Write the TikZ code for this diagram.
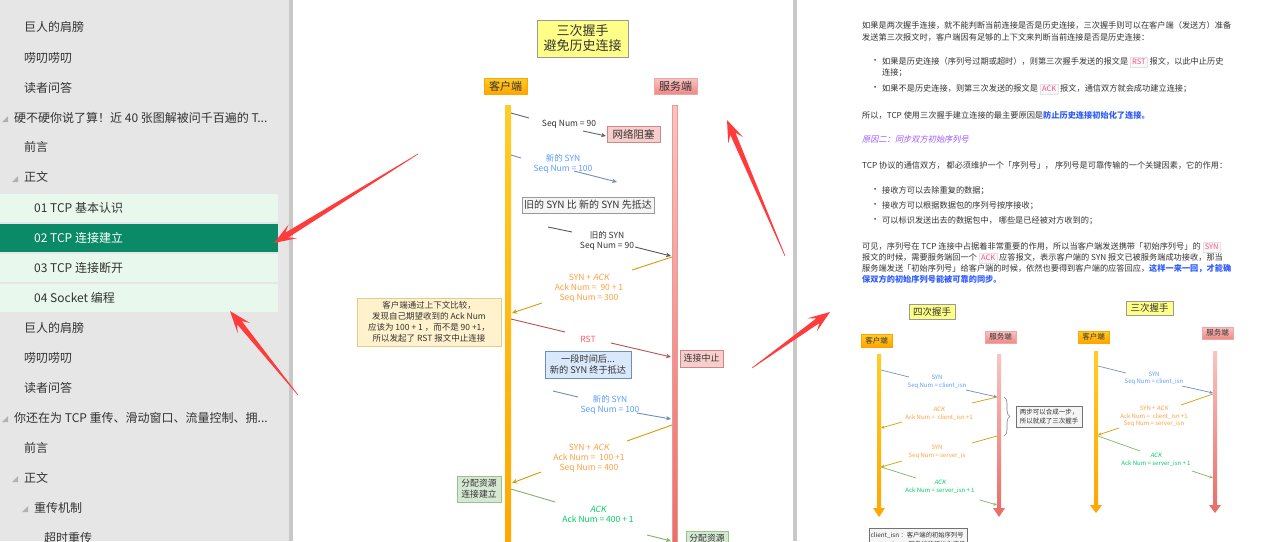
\documentclass[tikz,border=0pt]{standalone}
\usepackage{fontspec}
\setmainfont{Noto Sans CJK SC}
\newfontfamily\slfont{Noto Sans CJK SC}[FakeSlant=0.2]
\usetikzlibrary{arrows.meta,calc,decorations.pathreplacing}
\definecolor{leftbg}{HTML}{E6E6E6}
\definecolor{strip}{HTML}{C8C8C8}
\definecolor{rowlight}{HTML}{E8F8EC}
\definecolor{rowdark}{HTML}{0B8A67}
\definecolor{txt}{HTML}{333333}
\definecolor{annot}{HTML}{FF3B3B}
\definecolor{lnblue}{HTML}{6C8EBF}
\definecolor{lnorange}{HTML}{D79B00}
\definecolor{lnred}{HTML}{B85450}
\definecolor{lngreen}{HTML}{82B366}
\definecolor{lngray}{HTML}{666666}
\definecolor{tblue}{HTML}{5C9DFF}
\definecolor{torange}{HTML}{FFA040}
\definecolor{tgreen}{HTML}{00CC66}
\definecolor{tred}{HTML}{FF5C5C}
\definecolor{noteY}{HTML}{FFFF88}
\definecolor{redfill}{HTML}{F8CECC}
\definecolor{bluefill}{HTML}{DAE8FC}
\definecolor{greenfill}{HTML}{D5E8D4}
\definecolor{yelfill}{HTML}{FFF2CC}
\definecolor{yelbord}{HTML}{D6B656}
\definecolor{grayfill}{HTML}{F5F5F5}
\definecolor{graybord}{HTML}{999999}
\definecolor{cliA}{HTML}{FFCD28}
\definecolor{cliB}{HTML}{FFA500}
\definecolor{srvA}{HTML}{F8C4C2}
\definecolor{srvB}{HTML}{EA6B66}
\definecolor{codebg}{HTML}{F8F8F8}
\definecolor{codebd}{HTML}{E3E3E3}
\definecolor{codetx}{HTML}{FF4D88}
\definecolor{linkblue}{HTML}{2E5BFF}
\definecolor{purp}{HTML}{A057FF}
\newcommand\cbox[1]{{\fboxsep=1.8pt\fboxrule=0.4pt\fcolorbox{codebd}{codebg}{\textcolor{codetx}{\fontsize{7.5}{8}\selectfont #1}}}}
\newcommand\msgl[7]{%
  \coordinate (#3s) at #4; \coordinate (#3g) at #5;
  \coordinate (#3h) at #6; \coordinate (#3e) at #7;
  \draw[#1,#2] (#3s) -- (#3g);
  \draw[#1,#2,->] (#3h) -- (#3e);}
\newcommand\tri[2]{\fill[gray!60] (#1,#2+5) -- (#1+6,#2+5) -- (#1+6,#2-1) -- cycle;}
\newcommand\redarr[3]{%
  \coordinate (#1t) at #2; \coordinate (#1p) at #3;
  \coordinate (#1b) at ($(#1p)!15pt!(#1t)$);
  \coordinate (#1c) at ($(#1p)!22pt!(#1t)$);
  \fill[annot] ($(#1t)!0.3pt!90:(#1p)$) -- ($(#1b)!2.8pt!90:(#1p)$) -- ($(#1c)!8pt!90:(#1p)$) -- (#1p)
   -- ($(#1c)!8pt!-90:(#1p)$) -- ($(#1b)!2.8pt!-90:(#1p)$) -- ($(#1t)!0.3pt!-90:(#1p)$) -- cycle;}
\tikzset{
  lefttxt/.style={anchor=west, inner sep=0pt, text=txt, font=\fontsize{12}{14}\selectfont},
  boxn/.style={draw, rectangle, inner sep=0pt, align=center, text=txt},
  mlbl/.style={align=center, inner sep=0pt, font=\fontsize{8.5}{10}\selectfont},
  slbl/.style={align=center, inner sep=0pt, font=\fontsize{6}{7.7}\selectfont},
  big/.style={line width=0.9pt, >={Stealth[length=5pt,width=4.5pt]}},
  small/.style={line width=0.7pt, >={Stealth[length=3.5pt,width=3pt]}},
  rtxt/.style={anchor=west, inner sep=0pt, text=txt, font=\fontsize{8.2}{12}\selectfont},
}
\begin{document}
\begin{tikzpicture}[x=1pt,y=-1pt]
\useasboundingbox (0,0) rectangle (1285,541);
\clip (0,0) rectangle (1285,541);
\fill[white] (0,0) rectangle (1285,541);
% ---------- left panel ----------
\fill[leftbg] (0,0) rectangle (289,541);
\fill[strip] (289,0) rectangle (293,541);
\fill[strip] (793,0) rectangle (797,541);
\fill[rowlight] (0,194) rectangle (278,222);
\fill[rowdark] (0,224) rectangle (278,252);
\fill[rowlight] (0,254) rectangle (278,282);
\fill[rowlight] (0,284) rectangle (278,312);
\node[lefttxt] (l1) at (24,27) {巨人的肩膀};
\node[lefttxt] (l2) at (24,58) {唠叨唠叨};
\node[lefttxt] (l3) at (24,88) {读者问答};
\tri{2}{117}
\node[lefttxt] (l4) at (14,118) {硬不硬你说了算！近 40 张图解被问千百遍的 T...};
\node[lefttxt] (l5) at (24,147) {前言};
\tri{12}{177}
\node[lefttxt] (l6) at (24,177) {正文};
\node[lefttxt] (l7) at (34,208) {01 TCP 基本认识};
\node[lefttxt, text=white] (l8) at (34,238) {02 TCP 连接建立};
\node[lefttxt] (l9) at (34,268) {03 TCP 连接断开};
\node[lefttxt] (l10) at (34,298) {04 Socket 编程};
\node[lefttxt] (l11) at (24,328) {巨人的肩膀};
\node[lefttxt] (l12) at (24,358) {唠叨唠叨};
\node[lefttxt] (l13) at (24,388) {读者问答};
\tri{2}{417}
\node[lefttxt] (l14) at (14,418) {你还在为 TCP 重传、滑动窗口、流量控制、拥...};
\node[lefttxt] (l15) at (24,448) {前言};
\tri{12}{477}
\node[lefttxt] (l16) at (24,478) {正文};
\tri{22}{507}
\node[lefttxt] (l17) at (34,508) {重传机制};
\node[lefttxt] (l18) at (44,538) {超时重传};
% ---------- middle diagram ----------
\node[boxn, fill=noteY, draw=black!40, minimum width=91, minimum height=37, font=\fontsize{13}{15}\selectfont] (title) at (582.5,38.5) {三次握手\\避免历史连接};
\node[boxn, top color=cliA, bottom color=cliB, draw=cliB, minimum width=43, minimum height=16, font=\fontsize{11}{13}\selectfont] (cli) at (505.5,86) {客户端};
\node[boxn, top color=srvA, bottom color=srvB!80, draw=srvB!60, minimum width=43, minimum height=16, font=\fontsize{11}{13}\selectfont] (srv) at (675.5,86) {服务端};
\shade[top color=cliA, bottom color=cliB] (505,105) rectangle (511,560);
\shade[top color=srvA, bottom color=srvB, draw=srvB!70] (672,105) rectangle (677,560);
\node[boxn, fill=redfill, draw=lnred!70, minimum width=53, minimum height=16, font=\fontsize{10.5}{12}\selectfont] (block) at (633.5,134) {网络阻塞};
\node[boxn, fill=grayfill, draw=graybord, minimum width=132, minimum height=16, font=\fontsize{10}{12}\selectfont] (oldfirst) at (588,205) {旧的 SYN 比 新的 SYN 先抵达};
\node[boxn, fill=yelfill, draw=yelbord!70, minimum width=144, minimum height=48, font=\fontsize{8.5}{11}\selectfont] (note) at (429,322) {客户端通过上下文比较，\\发现自己期望收到的 Ack Num\\应该为 100 + 1 ，而不是 90 +1，\\所以发起了 RST 报文中止连接};
\node[boxn, fill=redfill, draw=lnred!70, minimum width=43, minimum height=17, font=\fontsize{9}{11}\selectfont] (abort) at (701.5,358.5) {连接中止};
\node[boxn, fill=bluefill, draw=lnblue, minimum width=86, minimum height=27, font=\fontsize{9.2}{11}\selectfont] (later) at (588,364.5) {一段时间后...\\新的 SYN 终于抵达};
\node[boxn, fill=greenfill, draw=lngreen!80, minimum width=44, minimum height=26, font=\fontsize{8.8}{11}\selectfont] (alloc1) at (479,489) {分配资源\\连接建立};
\node[boxn, fill=greenfill, draw=lngreen!80, minimum width=42, minimum height=26, font=\fontsize{8.8}{11}\selectfont] (alloc2) at (707,544) {分配资源\\连接建立};
\msgl{big}{lngray}{m1}{(511,113)}{(529,118)}{(583,131)}{(606,136)}
\node[mlbl, text=txt] (t1) at (569,124) {Seq Num = 90};
\msgl{big}{lnblue}{m2}{(511,155)}{(521,158)}{(574,171)}{(617,182)}
\node[mlbl, text=tblue] (t2) at (563,164) {新的 SYN\\Seq Num = 100};
\msgl{big}{black!65}{m3}{(548,227)}{(572,232)}{(635,247)}{(671,256)}
\node[mlbl, text=txt] (t3) at (607,241) {旧的 SYN\\Seq Num = 90};
\msgl{big}{lnorange}{m4}{(672,257)}{(632,270)}{(542,303)}{(512,313)}
\node[mlbl, text=torange] (t4) at (589,288) {SYN + {\slfont ACK}\\Ack Num = \ 90 + 1\\Seq Num = 300};
\msgl{big}{lnred}{m5}{(511,319)}{(565,332)}{(611,343)}{(671,357)}
\node[mlbl, text=tred] (t5) at (588,339) {RST};
\msgl{big}{lnblue}{m6}{(553,391)}{(578,397)}{(637,413)}{(671,419)}
\node[mlbl, text=tblue] (t6) at (610,405) {新的 SYN\\Seq Num = 100};
\msgl{big}{lnorange}{m7}{(672,425)}{(627,441)}{(541,472)}{(512,483)}
\node[mlbl, text=torange] (t7) at (589,458) {SYN + {\slfont ACK}\\Ack Num = \ 100 +1\\Seq Num = 400};
\msgl{big}{lngreen}{m8}{(511,489)}{(555,502)}{(647,535)}{(671,541)}
\node[mlbl, text=tgreen] (t8) at (598,514) {{\slfont ACK}\\Ack Num = 400 + 1};
% ---------- right panel text ----------
\node[rtxt] (r1) at (862,25) {如果是两次握手连接，就不能判断当前连接是否是历史连接，三次握手则可以在客户端（发送方）准备};
\node[rtxt] (r2) at (862,37) {发送第三次报文时，客户端因有足够的上下文来判断当前连接是否是历史连接：};
\node[rtxt] (bu1) at (871,62) {•};
\node[rtxt] (r3) at (882,62) {如果是历史连接（序列号过期或超时），则第三次握手发送的报文是 \cbox{RST} 报文，以此中止历史};
\node[rtxt] (r4) at (882,73) {连接；};
\node[rtxt] (bu2) at (871,89) {•};
\node[rtxt] (r5) at (882,89) {如果不是历史连接，则第三次发送的报文是 \cbox{ACK} 报文，通信双方就会成功建立连接；};
\node[rtxt] (r6) at (862,115) {所以，TCP 使用三次握手建立连接的最主要原因是{\bfseries\color{linkblue}防止历史连接初始化了连接。}};
\node[rtxt, text=purp, font=\fontsize{8.2}{12}\slfont] (r7) at (862,139) {原因二：同步双方初始序列号};
\node[rtxt] (r8) at (862,165) {TCP 协议的通信双方， 都必须维护一个「序列号」， 序列号是可靠传输的一个关键因素，它的作用：};
\node[rtxt] (bu3) at (871,191) {•};
\node[rtxt] (r9) at (882,191) {接收方可以去除重复的数据；};
\node[rtxt] (bu4) at (871,206) {•};
\node[rtxt] (r10) at (882,206) {接收方可以根据数据包的序列号按序接收；};
\node[rtxt] (bu5) at (871,221) {•};
\node[rtxt] (r11) at (882,221) {可以标识发送出去的数据包中， 哪些是已经被对方收到的；};
\node[rtxt] (r12) at (862,247) {可见，序列号在 TCP 连接中占据着非常重要的作用，所以当客户端发送携带「初始序列号」的 \cbox{SYN}};
\node[rtxt] (r13) at (862,258) {报文的时候，需要服务端回一个 \cbox{ACK} 应答报文，表示客户端的 SYN 报文已被服务端成功接收，那当};
\node[rtxt] (r14) at (862,268.5) {服务端发送「初始序列号」给客户端的时候，依然也要得到客户端的应答回应，{\bfseries\color{linkblue}这样一来一回，才能确}};
\node[rtxt, text=linkblue, font=\fontsize{8.2}{12}\bfseries] (r15) at (862,279) {保双方的初始序列号能被可靠的同步。};
% ---------- four-way diagram ----------
\node[boxn, fill=noteY, draw=black!40, minimum width=46, minimum height=15, font=\fontsize{9.5}{11}\selectfont] (title4) at (932,311.5) {四次握手};
\node[boxn, top color=cliA, bottom color=cliB, draw=cliB, minimum width=31, minimum height=13, font=\fontsize{7.5}{9}\selectfont] (cli4) at (876.5,340.5) {客户端};
\node[boxn, top color=srvA, bottom color=srvB!80, draw=srvB!60, minimum width=31, minimum height=12, font=\fontsize{7.5}{9}\selectfont] (srv4) at (1000.5,337) {服务端};
\shade[top color=cliA, bottom color=cliB] (877,354) -- (881,354) -- (881,508) -- (885,508) -- (879,517) -- (873,508) -- (877,508) -- cycle;
\shade[top color=srvA, bottom color=srvB] (997,354) -- (1001,354) -- (1001,508) -- (1005,508) -- (999,517) -- (993,508) -- (997,508) -- cycle;
\msgl{small}{lnblue}{f1}{(881,370)}{(909,377)}{(966,390)}{(997,397)}
\node[slbl, text=tblue] (ft1) at (937,382) {SYN\\Seq Num = client\_isn};
\msgl{small}{lnorange}{f2}{(997,397)}{(972,403)}{(902,422)}{(881,428)}
\node[slbl, text=torange] (ft2) at (939,413.5) {{\slfont ACK}\\Ack Num = \ client\_isn +1};
\msgl{small}{lnorange}{f3}{(997,436)}{(972,443)}{(902,461)}{(881,467)}
\node[slbl, text=torange] (ft3) at (937,452) {SYN\\Seq Num = server\_is};
\msgl{small}{lngreen}{f4}{(881,467)}{(916,478)}{(980,500)}{(997,505)}
\node[slbl, text=tgreen] (ft4) at (940,487) {{\slfont ACK}\\Ack Num = server\_isn + 1};
\coordinate (brA) at (1004,397);
\coordinate (brB) at (1004,436);
\draw[gray, line width=0.6pt, decorate, decoration={brace, amplitude=6pt}] (brA) -- (brB);
\node[boxn, fill=grayfill, draw=black!55, minimum width=66, minimum height=21, align=left, font=\fontsize{6.5}{8.5}\selectfont] (note4) at (1049,416.5) {两步可以合成一步，\\所以就成了三次握手};
\node[boxn, fill=grayfill, draw=black!55, minimum width=98, minimum height=24, align=left, font=\fontsize{6.3}{9.5}\selectfont] (legend) at (918,540) {client\_isn ：客户端的初始序列号\\server\_isn ：服务端的初始化序号};
% ---------- three-way diagram ----------
\node[boxn, fill=noteY, draw=black!40, minimum width=47, minimum height=14, font=\fontsize{9.5}{11}\selectfont] (title3) at (1149.5,308) {三次握手};
\node[boxn, top color=cliA, bottom color=cliB, draw=cliB, minimum width=31, minimum height=12, font=\fontsize{7.5}{9}\selectfont] (cli3) at (1093.5,337) {客户端};
\node[boxn, top color=srvA, bottom color=srvB!80, draw=srvB!60, minimum width=31, minimum height=12, font=\fontsize{7.5}{9}\selectfont] (srv3) at (1217.5,333) {服务端};
\shade[top color=cliA, bottom color=cliB] (1094,351) -- (1098,351) -- (1098,505) -- (1102,505) -- (1096,513) -- (1090,505) -- (1094,505) -- cycle;
\shade[top color=srvA, bottom color=srvB] (1213,351) -- (1217,351) -- (1217,505) -- (1221,505) -- (1215,513) -- (1209,505) -- (1213,505) -- cycle;
\msgl{small}{lnblue}{g1}{(1098,366)}{(1126,373)}{(1182,386)}{(1213,393)}
\node[slbl, text=tblue] (gt1) at (1154,378.5) {SYN\\Seq Num = client\_isn};
\msgl{small}{lnorange}{g2}{(1213,394)}{(1181,405)}{(1119,428)}{(1098,435)}
\node[slbl, text=torange] (gt2) at (1154,416.5) {SYN + {\slfont ACK}\\Ack Num = \ client\_isn +1\\Seq Num = server\_isn};
\msgl{small}{lngreen}{g3}{(1098,436)}{(1140,451)}{(1192,471)}{(1213,478)}
\node[slbl, text=tgreen] (gt3) at (1156,460) {{\slfont ACK}\\Ack Num = server\_isn + 1};
% ---------- red annotation arrows ----------
\redarr{a1}{(418,154)}{(274,243)}
\redarr{a2}{(298,395)}{(230,311)}
\redarr{a3}{(785,256)}{(727,120)}
\redarr{a4}{(752,368)}{(830,312)}
\end{tikzpicture}
\end{document}
